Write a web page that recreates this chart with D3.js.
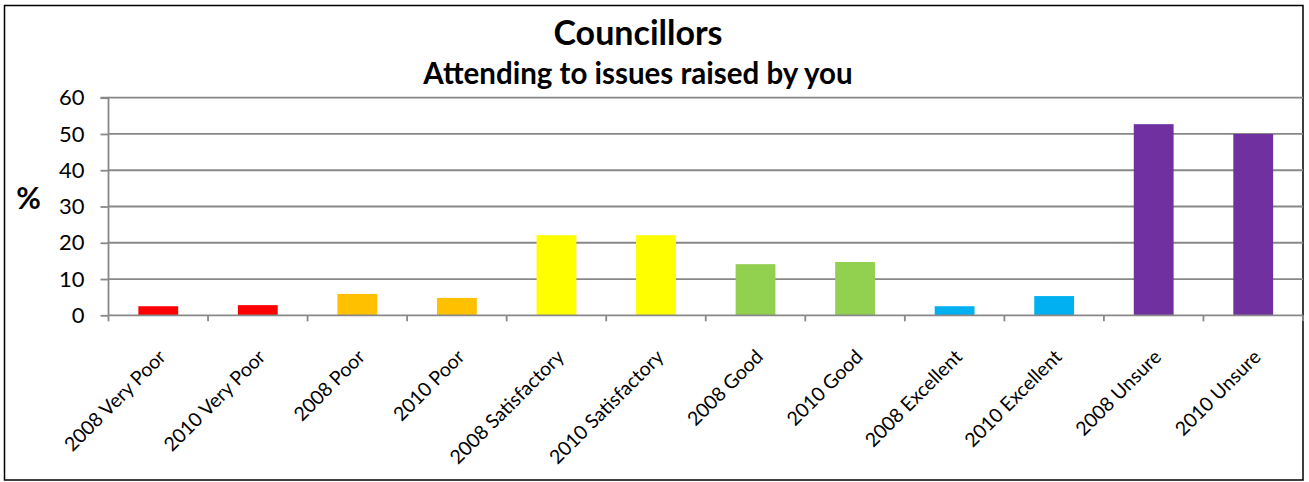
<!DOCTYPE html>
<html><head><meta charset="utf-8">
<script src="https://cdn.jsdelivr.net/npm/d3@7"></script>
<style>
html,body{margin:0;padding:0;background:#fff;}
svg{display:block;}
text{font-family:Lato,"Open Sans",sans-serif;}
</style></head>
<body>
<svg id="chart" width="1309" height="482"></svg>
<script>
const categories = ["2008 Very Poor","2010 Very Poor","2008 Poor","2010 Poor","2008 Satisfactory","2010 Satisfactory","2008 Good","2010 Good","2008 Excellent","2010 Excellent","2008 Unsure","2010 Unsure"];
const values = [2.5, 2.8, 5.9, 4.8, 22.1, 22.1, 14.1, 14.7, 2.5, 5.3, 52.7, 50.0];
const barColors = ["#FF0000","#FF0000","#FFC000","#FFC000","#FFFF00","#FFFF00","#92D050","#92D050","#00B0F0","#00B0F0","#7030A0","#7030A0"];
const yTicks = [0,10,20,30,40,50,60];
const title = "Councillors";
const subtitle = "Attending to issues raised by you";
const yLabel = "%";

const svg = d3.select("#chart");
const pLeft = 108.5, pRight = 1303, pTop = 97.7, pBottom = 315.3;

// outer frame
svg.append("rect").attr("x",4.5).attr("y",5.5).attr("width",1298.5).attr("height",474.5)
  .attr("fill","#fff").attr("stroke","#000").attr("stroke-width",1.5);

const x = d3.scaleBand().domain(categories).range([pLeft,pRight]).paddingInner(0.6).paddingOuter(0.3);
const xb = d3.scaleBand().domain(categories).range([pLeft,pRight]);
const y = d3.scaleLinear().domain([0,60]).range([pBottom,pTop]);

const gridColor = "#888";

// gridlines
svg.append("g").selectAll("line").data(yTicks.filter(d=>d>0)).join("line")
  .attr("x1",pLeft).attr("x2",pRight).attr("y1",d=>y(d)).attr("y2",d=>y(d))
  .attr("stroke",gridColor).attr("stroke-width",1.8);

// bars
svg.append("g").selectAll("rect").data(values).join("rect")
  .attr("x",(d,i)=>x(categories[i])).attr("width",x.bandwidth())
  .attr("y",d=>y(d)).attr("height",d=>y(0)-y(d))
  .attr("fill",(d,i)=>barColors[i]);

// y axis
const yAxis = d3.axisLeft(y).tickValues(yTicks).tickSize(8).tickPadding(10);
const gy = svg.append("g").attr("transform",`translate(${pLeft},0)`).call(yAxis);
gy.select(".domain").attr("stroke",gridColor).attr("stroke-width",1.8).attr("d",`M-8,${pTop}H0V${pBottom}`);
gy.selectAll(".tick line").attr("stroke",gridColor).attr("stroke-width",1.8);
gy.selectAll(".tick text").attr("font-family","Lato,'Open Sans',sans-serif").attr("font-size",22).attr("fill","#000").attr("x",-24);

// x axis line and ticks at band boundaries
const boundaries = categories.map(c=>xb(c)).concat([pRight]);
svg.append("line").attr("x1",pLeft).attr("x2",pRight).attr("y1",pBottom).attr("y2",pBottom)
  .attr("stroke",gridColor).attr("stroke-width",1.8);
svg.append("g").selectAll("line").data(boundaries).join("line")
  .attr("x1",d=>d).attr("x2",d=>d).attr("y1",pBottom).attr("y2",pBottom+6)
  .attr("stroke",gridColor).attr("stroke-width",1.8);

// x labels
svg.append("g").selectAll("text").data(categories).join("text")
  .attr("transform",d=>`translate(${xb(d)+xb.bandwidth()/2-1},${pBottom+33}) rotate(-45)`)
  .attr("text-anchor","end").attr("dy","0.71em")
  .attr("font-size",19.5).attr("fill","#000").text(d=>d);

// titles
svg.append("text").attr("x",638).attr("y",45).attr("text-anchor","middle")
  .attr("font-size",34).attr("font-weight","bold").attr("fill","#000").text(title);
svg.append("text").attr("x",638).attr("y",84).attr("text-anchor","middle")
  .attr("font-size",29.5).attr("font-weight","bold").attr("fill","#000").text(subtitle);
svg.append("text").attr("x",28.5).attr("y",209).attr("text-anchor","middle")
  .attr("font-size",30).attr("font-weight","bold").attr("fill","#000").text(yLabel);
</script>
</body></html>
